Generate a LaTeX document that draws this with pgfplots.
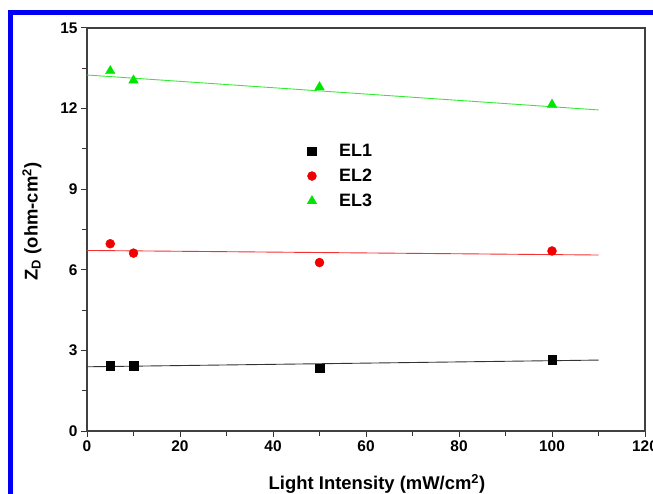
\documentclass[border=0pt]{standalone}
\usepackage{pgfplots}
\pgfplotsset{compat=1.18}
\usepackage{fontspec}
\setmainfont{Liberation Sans}
\definecolor{elgreen}{RGB}{0,230,0}
\definecolor{elred}{RGB}{240,0,0}
\definecolor{frameblue}{RGB}{0,0,245}
\begin{document}
\begin{tikzpicture}[x=1bp,y=1bp]
\begin{axis}[name=ax, at={(0,0)}, anchor=south west,
  scale only axis, width=558bp, height=403bp,
  xmin=0, xmax=120, ymin=0, ymax=15,
  xtick={0,20,...,120}, ytick={0,3,...,15},
  minor xtick={10,30,...,110}, minor ytick={1.5,4.5,...,13.5},
  tick align=outside, tick pos=left,
  major tick length=6bp, minor tick length=5bp,
  every tick/.style={black!80, line width=1pt},
  axis line style={line width=1.1pt, black!75},
  ticklabel style={font=\fontsize{15.5}{15.5}\selectfont\bfseries},
  /pgf/number format/assume math mode=true,
  xlabel={Light Intensity (mW/cm\textsuperscript{2})},
  ylabel={Z\textsubscript{D} (ohm-cm\textsuperscript{2})},
  label style={font=\fontsize{18.5}{18.5}\selectfont\bfseries},
  xlabel style={yshift=-16bp, xshift=11bp},
  ylabel style={yshift=12bp, xshift=8bp},
  legend style={draw=none, fill=none, at={(axis cs:45.5,10.83)}, anchor=north west,
    font=\fontsize{18}{18}\selectfont\bfseries, row sep=7bp},
  legend cell align=left,
  legend image code/.code={\path (0bp,0bp) (35bp,0bp); \draw[#1, only marks] plot coordinates {(10bp,0bp)};},
]
\addplot[only marks, mark=square*, mark size=4.3bp, black] coordinates {(5,2.42) (10,2.42) (50,2.33) (100,2.65)};
\addlegendentry{EL1}
\addplot[only marks, mark=*, mark size=4.5bp, elred, mark options={draw=elred, fill=elred}] coordinates {(5,6.97) (10,6.62) (50,6.27) (100,6.70)};
\addlegendentry{EL2}
\addplot[only marks, mark=triangle*, mark size=5.5bp, elgreen, mark options={draw=elgreen, fill=elgreen}] coordinates {(5,13.4) (10,13.05) (50,12.8) (100,12.15)};
\addlegendentry{EL3}
\addplot[forget plot, black!80, line width=0.9pt] coordinates {(0,2.39) (110,2.64)};
\addplot[forget plot, elred!80, line width=0.9pt] coordinates {(0,6.72) (110,6.55)};
\addplot[forget plot, elgreen!80, line width=0.9pt] coordinates {(0,13.25) (110,11.95)};
\end{axis}
\fill[frameblue] (-79,416) rectangle (566,421);
\fill[frameblue] (-79,421) rectangle (-74,-63);
\pgfresetboundingbox
\path[use as bounding box] (-87,-63) rectangle (566,431);
\end{tikzpicture}
\end{document}
